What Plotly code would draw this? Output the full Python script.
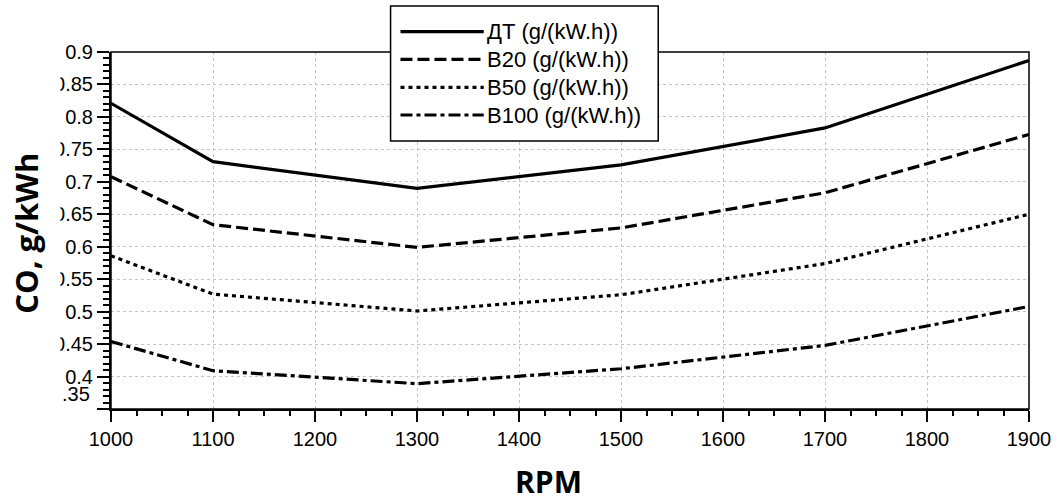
import plotly.graph_objects as go

# ---- data ----
rpm = [1000, 1100, 1300, 1500, 1700, 1900]
dt = [0.821, 0.731, 0.690, 0.726, 0.783, 0.887]
b20 = [0.708, 0.634, 0.599, 0.629, 0.683, 0.773]
b50 = [0.586, 0.527, 0.501, 0.526, 0.574, 0.650]
b100 = [0.454, 0.409, 0.389, 0.412, 0.448, 0.508]

series_names = ["ДТ (g/(kW.h))", "B20 (g/(kW.h))", "B50 (g/(kW.h))", "B100 (g/(kW.h))"]
series_values = [dt, b20, b50, b100]
series_dash = ["solid", "12px,5px", "4px,4px", "12px,4px,4px,4px"]

x_range = [1000, 1900]
x_step = 100
y_ticks = [0.35, 0.4, 0.45, 0.5, 0.55, 0.6, 0.65, 0.7, 0.75, 0.8, 0.85, 0.9]
y_ticktext = ["", "0.4", "0.45", "0.5", "0.55", "0.6", "0.65", "0.7", "0.75", "0.8", "0.85", "0.9"]
y_bottom_label = ".35"

# ---- layout geometry (pixels) ----
W, H = 1063, 501
L, R, T, B = 111, 26, 52, 92
PW, PH = W - L - R, H - T - B


def px(xp):
    return (xp - L) / PW


def py(yp):
    return (H - B - yp) / PH


fig = go.Figure()
for name, vals, dash in zip(series_names, series_values, series_dash):
    fig.add_trace(go.Scatter(
        x=rpm, y=vals, mode="lines", name=name,
        line=dict(color="black", width=3.2, dash=dash),
        showlegend=False,
    ))

tick_font = dict(family="Liberation Sans, Arial", size=20, color="black")

fig.update_xaxes(
    range=x_range, tickmode="linear", tick0=x_range[0], dtick=x_step,
    showline=True, linecolor="black", linewidth=2,
    ticks="outside", ticklen=11, tickwidth=2, tickcolor="black",
    minor=dict(tickmode="linear", tick0=x_range[0], dtick=x_step / 4, ticks="outside", ticklen=5,
               tickwidth=2, tickcolor="black", showgrid=False),
    showgrid=True, gridcolor="#c4c4c4", griddash="dot", gridwidth=1,
    zeroline=False, tickfont=tick_font,
)
fig.update_yaxes(
    range=[y_ticks[0], y_ticks[-1]], tickmode="array", tickvals=y_ticks, ticktext=y_ticktext,
    showline=True, linecolor="black", linewidth=2,
    ticks="outside", ticklen=12, tickwidth=2, tickcolor="black",
    minor=dict(tickmode="linear", tick0=y_ticks[0], dtick=0.01, ticks="outside", ticklen=6,
               tickwidth=2, tickcolor="black", showgrid=False),
    showgrid=True, gridcolor="#c4c4c4", griddash="dot", gridwidth=1,
    zeroline=False, tickfont=tick_font,
)

shapes = []
# plot border (top/right)
shapes.append(dict(type="rect", xref="paper", yref="paper", x0=0, x1=1, y0=0, y1=1,
                   line=dict(color="black", width=1.5), fillcolor="rgba(0,0,0,0)", layer="above"))
# clipping of tick-label column at the left
shapes.append(dict(type="rect", xref="paper", yref="paper", x0=px(-5), x1=px(60), y0=py(H + 5), y1=py(-5),
                   line=dict(width=0), fillcolor="white", layer="above"))
# legend box
shapes.append(dict(type="rect", xref="paper", yref="paper", x0=px(393), x1=px(663), y0=py(141), y1=py(6),
                   line=dict(color="black", width=1.5), fillcolor="white", layer="above"))

annotations = []
leg_y = [31.7, 59.3, 87.3, 115.0]
for name, dash, yy in zip(series_names, series_dash, leg_y):
    shapes.append(dict(type="line", xref="paper", yref="paper", x0=px(403), x1=px(487), y0=py(yy), y1=py(yy),
                       line=dict(color="black", width=3.2, dash=dash), layer="above"))
    annotations.append(dict(xref="paper", yref="paper", x=px(488), y=py(yy), text=name, showarrow=False,
                            xanchor="left", yanchor="middle",
                            font=dict(family="Liberation Sans, Arial", size=22, color="black")))

# shifted bottom tick label
annotations.append(dict(xref="paper", yref="y", x=px(92), y=y_ticks[0], yshift=15, text=y_bottom_label,
                        showarrow=False, xanchor="right", yanchor="middle", font=tick_font))

# axis titles
annotations.append(dict(xref="paper", yref="paper", x=px(552), y=py(481), text="<b>RPM</b>", showarrow=False,
                        xanchor="center", yanchor="middle",
                        font=dict(family="Open Sans", size=30, color="black")))
annotations.append(dict(xref="paper", yref="paper", x=px(25), y=py(233), text="<b>CO, g/kWh</b>", showarrow=False,
                        textangle=-90, xanchor="center", yanchor="middle",
                        font=dict(family="Open Sans", size=31, color="black")))

fig.update_layout(
    width=W, height=H,
    margin=dict(l=L, r=R, t=T, b=B),
    paper_bgcolor="white", plot_bgcolor="white",
    shapes=shapes, annotations=annotations,
    showlegend=False,
)

fig.write_html("out.html")
